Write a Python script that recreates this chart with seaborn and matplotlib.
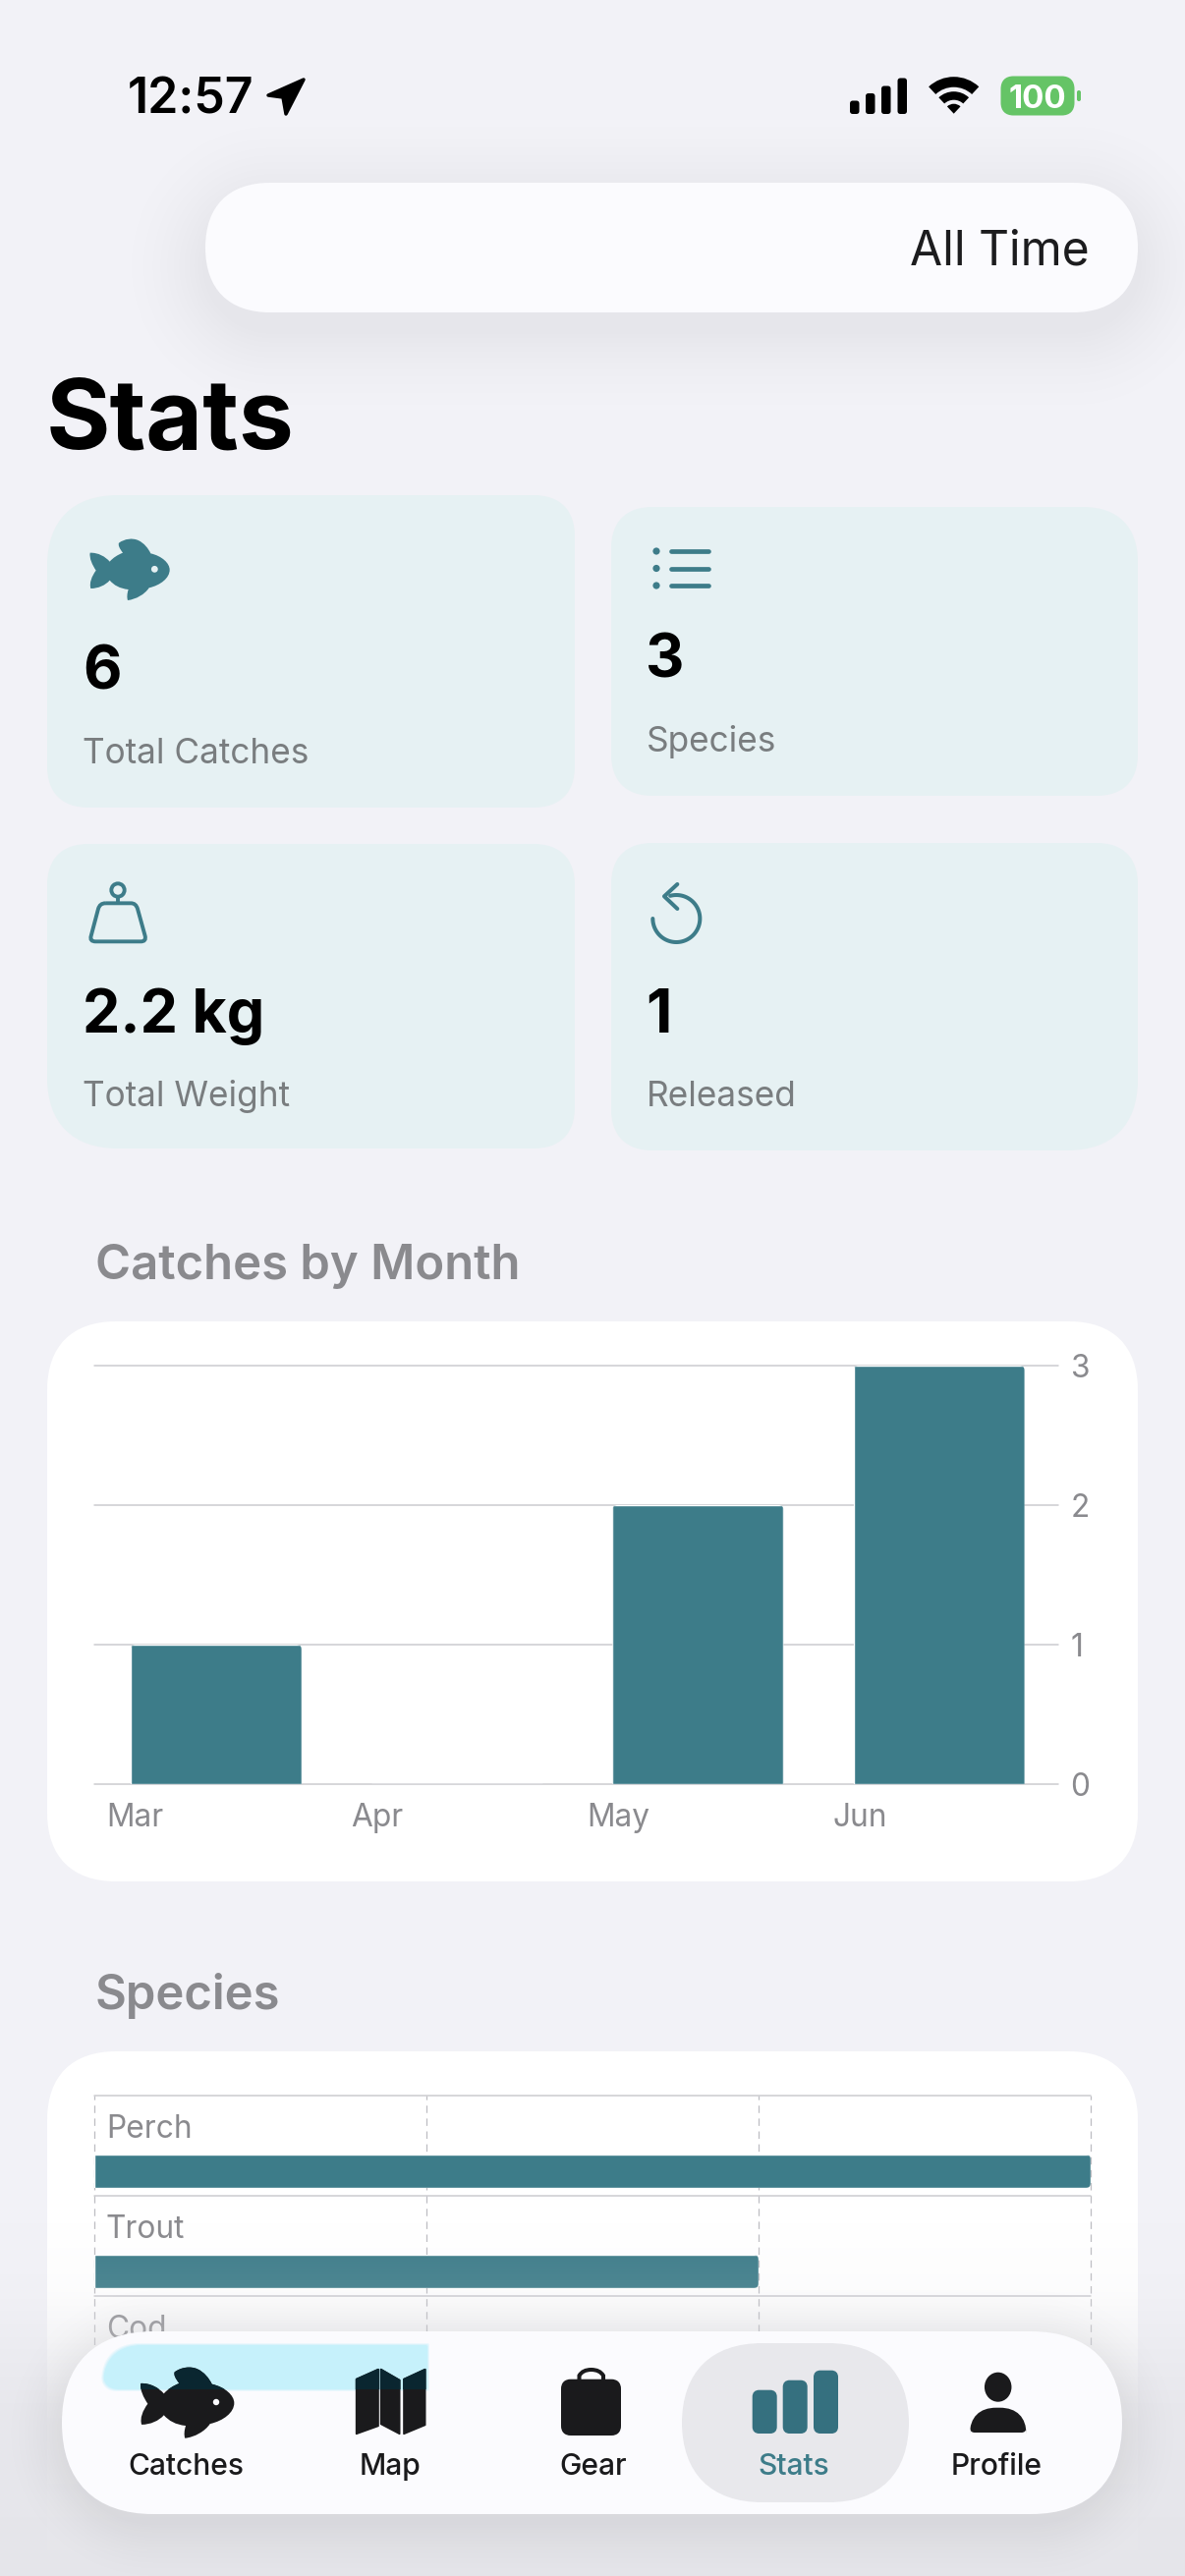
import numpy as np
import seaborn as sns
import matplotlib
matplotlib.use("Agg")
import matplotlib.pyplot as plt
from matplotlib.path import Path
from matplotlib.patches import PathPatch, Circle, Ellipse, Wedge, Polygon, FancyBboxPatch, Rectangle
from matplotlib.transforms import IdentityTransform

# chart data
months = ["Mar", "Apr", "May", "Jun"]
month_catches = [1, 0, 2, 3]
month_ticks = [0, 1, 2, 3]
species_names = ["Perch", "Trout", "Cod"]
species_counts = [3, 2, 1]
species_ticks = [0, 1, 2, 3]

# stat cards
stat_values = ["6", "3", "2.2 kg", "1"]
stat_labels = ["Total Catches", "Species", "Total Weight", "Released"]
tab_names = ["Catches", "Map", "Gear", "Stats", "Profile"]

W, H = 1206, 2622
BG = "#F2F2F7"
CARD = "#E6F1F3"
TEAL = "#3D7C89"
GRID = "#CBCBD0"
GRAY = "#8A8A8E"
DARK = "#1A1A1C"
PILL = "#FBFBFE"
FONT = "Inter"

sns.set_theme(style="white")
plt.rcParams["font.family"] = [FONT, "DejaVu Sans"]

fig = plt.figure(figsize=(W / 100, H / 100), dpi=100, facecolor=BG)


def pixel_axes(zorder):
    a = fig.add_axes([0, 0, 1, 1], zorder=zorder)
    a.set_xlim(0, W)
    a.set_ylim(H, 0)
    a.axis("off")
    a.patch.set_alpha(0)
    return a


def chart_axes(x0, y0, x1, y1, zorder=2):
    return fig.add_axes([x0 / W, 1 - y1 / H, (x1 - x0) / W, (y1 - y0) / H], zorder=zorder)


def rounded(x0, y0, x1, y1, tl, tr=None, br=None, bl=None):
    tr = tl if tr is None else tr
    br = tl if br is None else br
    bl = tl if bl is None else bl
    c = 0.36
    v = [(x0 + tl, y0), (x1 - tr, y0),
         (x1 - c * tr, y0), (x1, y0 + c * tr), (x1, y0 + tr), (x1, y1 - br),
         (x1, y1 - c * br), (x1 - c * br, y1), (x1 - br, y1), (x0 + bl, y1),
         (x0 + c * bl, y1), (x0, y1 - c * bl), (x0, y1 - bl), (x0, y0 + tl),
         (x0, y0 + c * tl), (x0 + c * tl, y0), (x0 + tl, y0), (x0 + tl, y0)]
    codes = [Path.MOVETO, Path.LINETO]
    for _ in range(3):
        codes += [Path.CURVE4] * 3 + [Path.LINETO]
    codes += [Path.CURVE4] * 3 + [Path.CLOSEPOLY]
    return Path(v, codes)


def fill(a, path, color, **kw):
    kw.setdefault("lw", 0)
    p = PathPatch(path, facecolor=color, edgecolor=kw.pop("edge", "none"), **kw)
    a.add_patch(p)
    return p


def shadow(a, x0, y0, x1, y1, r, blur, alpha, dy):
    yy, xx = np.mgrid[0:H, 0:W]
    cx, cy = (x0 + x1) / 2, (y0 + y1) / 2 + dy
    qx = np.abs(xx - cx) - (x1 - x0) / 2 + r
    qy = np.abs(yy - cy) - (y1 - y0) / 2 + r
    d = np.hypot(np.maximum(qx, 0), np.maximum(qy, 0)) + np.minimum(np.maximum(qx, qy), 0) - r
    rgba = np.zeros((H, W, 4))
    rgba[..., 3] = alpha * (1 - np.clip(d / blur, 0, 1)) ** 2
    a.imshow(rgba, extent=(0, W, H, 0), aspect="auto", interpolation="nearest")
    a.set_xlim(0, W)
    a.set_ylim(H, 0)


def label(a, x, y, s, size_px, color="black", weight="normal", ha="left", va="baseline"):
    return a.text(x, y, s, fontsize=size_px * 0.72, color=color, fontweight=weight, ha=ha, va=va)


def round_bars(a, radius, down=0, left=0):
    # rounded corners on the drawn bars, square on the base side
    fig.canvas.draw()
    for bar in a.patches:
        e = bar.get_window_extent()
        if e.width < 1 or e.height < 1:
            continue
        clip = FancyBboxPatch((e.x0 - left, e.y0 - down), e.width + left, e.height + down,
                              boxstyle=f"round,pad=0,rounding_size={radius}",
                              transform=IdentityTransform())
        bar.set_clip_path(clip)


# background layer
back = pixel_axes(0)
shadow(back, 209, 186, 1158, 318, 66, 105, 0.05, 18)
fill(back, rounded(209, 186, 1158, 318, 66), PILL, edge="white", linewidth=2)
label(back, 1109, 269, "All Time", 48, "#1C1C1E", ha="right")

label(back, 130, 116, "12:57", 50, "black", "semibold")
back.add_patch(Polygon([(273, 97), (309, 81), (291, 116), (288, 99)], closed=True, fc="black", ec="black",
                       lw=2.5, joinstyle="round"))

# signal, wifi, battery
for x0, top_y in zip([865, 881, 897, 913.5], [102.5, 95, 87.5, 79.5]):
    fill(back, rounded(x0, top_y, x0 + 9.5, 116, 3), "black")
for r, wd in [(37.5, 10.5), (22.5, 8.5), (10, 10)]:
    back.add_patch(Wedge((970.7, 115.7), r, 270 - 43, 270 + 43, width=wd, fc="black", ec="none"))
fill(back, rounded(1018.5, 77.5, 1093.5, 117.5, 13), "#65C466")
fill(back, rounded(1096, 92, 1100, 103, 2), "#65C466")
label(back, 1056, 97.5, "100", 33, "white", "bold", ha="center", va="center_baseline")

label(back, 47, 457, "Stats", 100, "black", "bold")

# stat cards
small, big = 42, 72
cards = [(48, 504, 585, 822, big, small, small, small),
         (622, 516, 1158, 810, small, 56, small, small),
         (48, 859, 585, 1169, small, small, small, big),
         (622, 858, 1158, 1171, small, small, big, small)]
for c in cards:
    fill(back, rounded(*c), CARD)
stat_pos = [(84, 702, 777), (657, 690, 765), (84, 1051, 1126), (657, 1051, 1126)]
for (x, yv, yl), val, lab in zip(stat_pos, stat_values, stat_labels):
    label(back, x, yv, val, 61, "black", "bold")
    label(back, x + 0.5, yl, lab, 35.2, "#797D7F")

# fish outline, traced as bezier segments
FISH = np.array([(65, 98), (90, 97), (112, 110), (125, 125), (135, 113), (150, 104), (165, 98),
                 (155, 85), (150, 75), (153, 68), (170, 55), (195, 52), (212, 60),
                 (230, 68), (243, 85), (250, 100), (285, 108), (308, 130), (308, 150),
                 (308, 175), (280, 197), (245, 205), (232, 225), (205, 240), (180, 243),
                 (177, 235), (178, 222), (182, 210), (155, 207), (138, 197), (125, 182),
                 (112, 197), (90, 207), (67, 207), (62, 190), (70, 170), (83, 152),
                 (72, 135), (62, 115), (65, 98)], dtype=float)
FISH_CODES = [Path.MOVETO] + [Path.CURVE4] * 39


def fish_path(ox, oy, sx, sy):
    return Path(FISH * [sx, sy] + [ox, oy], FISH_CODES)


fill(back, fish_path(70, 530, 1 / 3, 1 / 3), TEAL)
back.add_patch(Circle((70 + 262 / 3, 530 + 148 / 3), 3.4, fc=CARD, ec="none"))

# list icon
for y in [561, 578.5, 596]:
    back.add_patch(Circle((668, y), 3.6, fc=TEAL, ec="none"))
    back.plot([683, 721], [y, y], color=TEAL, lw=3.4, solid_capstyle="round")

# weight icon
ox, oy = 70, 880
back.add_patch(Ellipse((ox + 150 / 3, oy + 78 / 3), 40 / 3, 40 / 3, fc="none", ec=TEAL, lw=2.8))
back.plot([ox + 50, ox + 50], [oy + 98 / 3, oy + 116 / 3], color=TEAL, lw=2.8)
w = np.array([(112, 118), (190, 118), (205, 118), (210, 135), (233, 218), (237, 235), (220, 235),
              (82, 235), (63, 235), (68, 218), (90, 135), (95, 118), (112, 118)]) / 3 + [ox, oy]
w_codes = [Path.MOVETO, Path.LINETO, Path.CURVE3, Path.CURVE3, Path.LINETO, Path.CURVE3, Path.CURVE3,
           Path.LINETO, Path.CURVE3, Path.CURVE3, Path.LINETO, Path.CURVE3, Path.CURVE3]
back.add_patch(PathPatch(Path(w, w_codes), fc="none", ec=TEAL, lw=2.8))

# released icon
ox, oy = 640, 880
t = np.radians(np.linspace(180, 465, 80))
back.plot(ox + (145 + 72 * np.cos(t)) / 3, oy + (165 - 72 * np.sin(t)) / 3, color=TEAL, lw=2.9,
          solid_capstyle="round")
back.plot(np.array([148, 108, 148]) / 3 + ox, np.array([60, 97, 135]) / 3 + oy, color=TEAL, lw=2.9,
          solid_capstyle="round", solid_joinstyle="round")

# chart cards
label(back, 97, 1302, "Catches by Month", 49, GRAY, "semibold")
fill(back, rounded(48, 1345, 1158, 1915, 70), "white")
label(back, 97, 2045, "Species", 49, GRAY, "semibold")
fill(back, rounded(48, 2088, 1158, 2700, 70), "white")

# Catches by Month
ax = chart_axes(96, 1390, 1077, 1816)
sns.barplot(x=months, y=month_catches, color=TEAL, saturation=1, width=0.71, ax=ax, zorder=3)
ax.set_xlim(-0.505, 3.495)
ax.set_ylim(0, 3)
ax.set_xlabel("")
ax.set_ylabel("")
ax.set_xticks([-0.457, 0.559, 1.539, 2.559])
ax.set_xticklabels(months, ha="left", fontsize=22.8, color=GRAY)
ax.yaxis.tick_right()
ax.set_yticks(month_ticks)
ax.set_yticklabels(month_ticks, fontsize=22.8, color=GRAY)
ax.tick_params(axis="both", length=0)
ax.tick_params(axis="x", pad=14)
ax.tick_params(axis="y", pad=9)
ax.yaxis.grid(True, color=GRID, lw=1.1, clip_on=False)
ax.set_axisbelow(True)
ax.patch.set_alpha(0)
sns.despine(ax=ax, left=True, right=True, top=True, bottom=True)
round_bars(ax, 5, down=12)

# Species
ax2 = chart_axes(96, 2133, 1110, 2439)
sns.barplot(x=species_counts, y=species_names, orient="h", color=TEAL, saturation=1, width=0.333, ax=ax2, zorder=3)
ax2.set_xlim(0, 3)
ax2.set_ylim(2.245, -0.755)
ax2.set_xlabel("")
ax2.set_ylabel("")
ax2.set_xticks(species_ticks)
ax2.set_xticklabels([])
ax2.set_yticks(np.arange(4) - 0.755)
ax2.set_yticklabels([])
ax2.tick_params(axis="both", length=0)
ax2.yaxis.grid(True, color=GRID, lw=1.1, clip_on=False)
ax2.xaxis.grid(True, color="#BDBDC2", lw=0.9, ls=(0, (6, 4.5)), clip_on=False)
ax2.set_axisbelow(True)
ax2.patch.set_alpha(0)
sns.despine(ax=ax2, left=True, right=True, top=True, bottom=True)
for i, name in enumerate(species_names):
    ax2.text(0.035, i - 0.333, name, fontsize=22.8, color=GRAY, va="baseline", ha="left")
round_bars(ax2, 5, left=12)

# top layer, fade and tab bar
top = pixel_axes(5)
fade = np.zeros((H, W, 4))
fade[..., :3] = np.array([229, 229, 234]) / 255
fade[..., 3] = np.interp(np.arange(H), [2260, 2330, 2380, 2450, 2622], [0, 0.1, 0.4, 0.8, 1.0])[:, None]
top.imshow(fade, extent=(0, W, H, 0), aspect="auto", interpolation="nearest")
shadow(top, 63, 2373, 1142, 2559, 93, 70, 0.06, 10)
fill(top, rounded(63, 2373, 1142, 2559, 93), PILL, edge="white", linewidth=2)

# lens tint from the bar under the tab, soft edge
for grow, a_val in [(2, 0.3), (1, 0.5), (0, 1.0)]:
    fill(top, rounded(105 - grow, 2387 - grow, 435 + grow, 2432 + grow, 40, 2, 2, 16), "#C6F1FB", alpha=a_val)
lens_clip = Rectangle((105, 2387), 330, 45, transform=top.transData)

fill(top, rounded(694, 2385, 925, 2547, 82), "#E8E8EC")

# tab icons, the part over the tint is darker teal
fish_tab = fish_path(117.9, 2388.2, 0.391, 0.385)
fill(top, fish_tab, DARK)
fill(top, fish_tab, "#0A2630").set_clip_path(lens_clip)
top.add_patch(Circle((220, 2445), 3.2, fc=PILL, ec="none"))

map_panels = [[(728, 125), (795, 95), (795, 268), (728, 292)],
              [(803, 95), (860, 128), (860, 292), (803, 262)],
              [(873, 125), (938, 95), (938, 265), (873, 292)]]
for pts in map_panels:
    xy = np.array(pts) / 3 + [120, 2380]
    top.add_patch(Polygon(xy, closed=True, fc=DARK, ec=DARK, lw=1.2, joinstyle="round"))
    tinted = Polygon(xy, closed=True, fc="#0A2630", ec="#0A2630", lw=1.2, joinstyle="round")
    top.add_patch(tinted)
    tinted.set_clip_path(lens_clip)

fill(top, rounded(571, 2421.7, 632, 2479, 10), DARK)
hx = np.array([589.5, 589.5, 593, 601.7, 610.4, 614, 614])
hy = np.array([2424, 2418, 2412, 2412, 2412, 2418, 2424])
top.add_patch(PathPatch(Path(np.c_[hx, hy], [Path.MOVETO, Path.LINETO, Path.CURVE3, Path.CURVE3,
                                             Path.CURVE3, Path.CURVE3, Path.LINETO]),
                        fc="none", ec=DARK, lw=2.9))

for x0, y0 in [(765.7, 2432.7), (796.7, 2422.7), (828, 2412.7)]:
    fill(top, rounded(x0, y0, x0 + 25, 2477, 7), "#35707F")

top.add_patch(Ellipse((1015.7, 2429.7), 27.5, 30, fc=DARK, ec="none"))
fill(top, rounded(987, 2450.7, 1044.5, 2476, 27, 27, 5, 5), DARK)

tab_x = [189, 396.5, 603.5, 808, 1014]
for x, name in zip(tab_x, tab_names):
    label(top, x, 2519, name, 30, TEAL if name == "Stats" else DARK, "medium", ha="center")

fig.savefig("out.png", dpi=100, facecolor=BG)
